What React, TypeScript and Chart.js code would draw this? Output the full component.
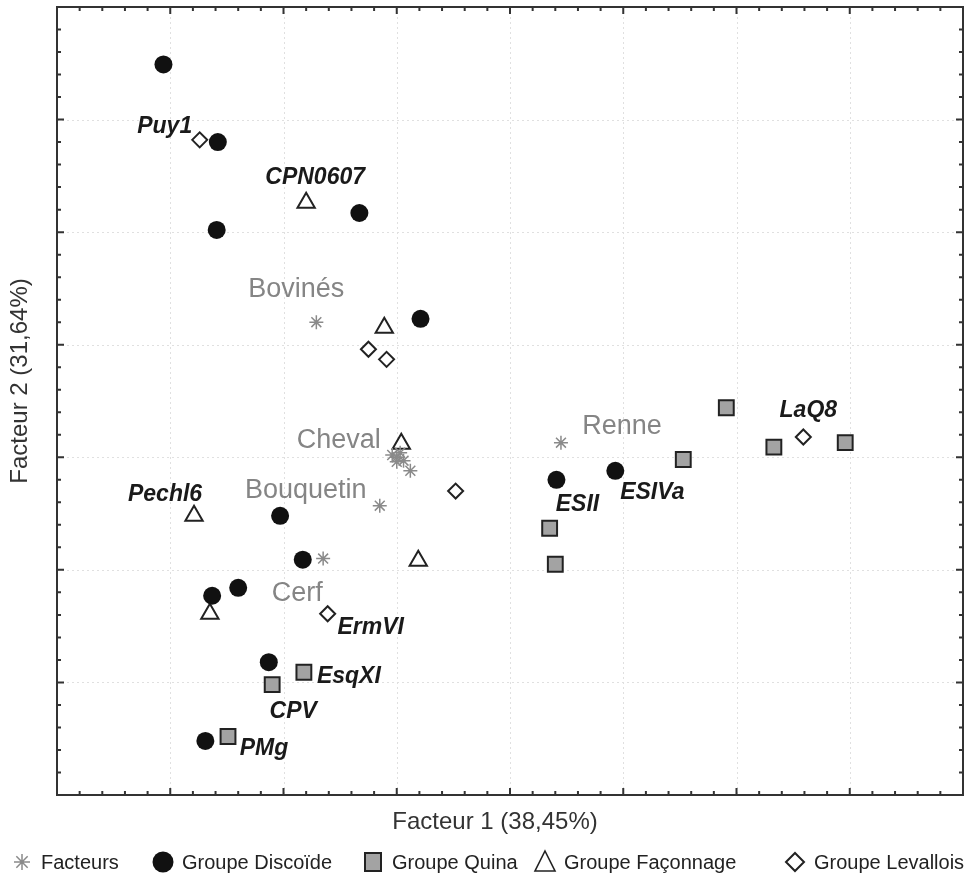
import React, { useEffect, useRef } from 'react';
import { Chart, registerables } from 'chart.js';

Chart.register(...registerables);

// ---- Data (Facteur 1, Facteur 2 coordinates) ----
const facteursPts: [number, number][] = [
  [-0.71, 1.2], [0.0, 0.0], [-0.15, -0.43], [-0.65, -0.9], [1.45, 0.13],
  [-0.04, 0.02], [0.03, 0.04], [0.0, -0.04], [0.06, -0.03], [0.12, -0.12],
];
const facteursLabels = ['Bovinés', 'Cheval', 'Bouquetin', 'Cerf', 'Renne', '', '', '', '', ''];

const discoidePts: [number, number][] = [
  [-2.06, 3.49], [-1.58, 2.8], [-0.33, 2.17], [-1.59, 2.02], [0.21, 1.23],
  [1.41, -0.2], [1.93, -0.12], [-1.03, -0.52], [-0.83, -0.91], [-1.4, -1.16],
  [-1.63, -1.23], [-1.13, -1.82], [-1.69, -2.52],
];
const discoideLabels = ['', '', '', '', '', 'ESII', 'ESIVa', '', '', '', '', '', ''];

const quinaPts: [number, number][] = [
  [2.91, 0.44], [2.53, -0.02], [3.33, 0.09], [3.96, 0.13], [1.35, -0.63],
  [1.4, -0.95], [-0.82, -1.91], [-1.1, -2.02], [-1.49, -2.48],
];
const quinaLabels = ['', '', '', '', '', '', 'EsqXI', 'CPV', 'PMg'];

const faconnagePts: [number, number][] = [
  [-0.8, 2.26], [-0.11, 1.15], [0.04, 0.12], [-1.79, -0.52], [0.19, -0.92], [-1.65, -1.39],
];
const faconnageLabels = ['CPN0607', '', '', 'Pechl6', '', ''];

const levalloisPts: [number, number][] = [
  [-1.74, 2.82], [-0.25, 0.96], [-0.09, 0.87], [0.52, -0.3], [3.59, 0.18], [-0.61, -1.39],
];
const levalloisLabels = ['Puy1', '', '', '', 'LaQ8', 'ErmVI'];

const seriesNames = ['Facteurs', 'Groupe Discoïde', 'Groupe Quina', 'Groupe Façonnage', 'Groupe Levallois'];
const xTitle = 'Facteur 1 (38,45%)';
const yTitle = 'Facteur 2 (31,64%)';

// ---- Layout / style (pixel offsets of labels relative to their point) ----
const LABEL_OFFSETS: Record<string, [number, number]> = {
  Puy1: [-35, -7], CPN0607: [9, -19], LaQ8: [5, -20], ESII: [21, 31], ESIVa: [37, 28],
  Pechl6: [-29, -15], ErmVI: [43, 20], EsqXI: [45, 11], CPV: [21, 33], PMg: [36, 19],
  'Bovinés': [-20, -25], Cheval: [-58, -9], Bouquetin: [-74, -8], Cerf: [-26, 42], Renne: [61, -9],
};
const LEGEND_ICON_X = [22, 163, 373, 545, 795];
const FONT = '"Liberation Sans", Arial, Helvetica, sans-serif';
const GREY_TEXT = '#858585';
const STAR_COL = '#8a8a8a';
const QUINA_FILL = '#a3a3a3';
const DARK = '#222222';

const toXY = (pts: [number, number][]) => pts.map(([x, y]) => ({ x, y }));

function drawIcon(ctx: CanvasRenderingContext2D, kind: number, x: number, y: number) {
  ctx.save();
  ctx.setLineDash([]);
  if (kind === 0) {
    ctx.strokeStyle = STAR_COL;
    ctx.lineWidth = 1.5;
    const r = 8;
    ctx.beginPath();
    for (let k = 0; k < 4; k++) {
      const a = (k * Math.PI) / 4;
      ctx.moveTo(x - Math.cos(a) * r, y - Math.sin(a) * r);
      ctx.lineTo(x + Math.cos(a) * r, y + Math.sin(a) * r);
    }
    ctx.stroke();
  } else if (kind === 1) {
    ctx.fillStyle = '#111';
    ctx.beginPath();
    ctx.arc(x, y, 10.5, 0, Math.PI * 2);
    ctx.fill();
  } else if (kind === 2) {
    ctx.fillStyle = QUINA_FILL;
    ctx.strokeStyle = DARK;
    ctx.lineWidth = 2;
    ctx.fillRect(x - 8, y - 9, 16, 18);
    ctx.strokeRect(x - 8, y - 9, 16, 18);
  } else if (kind === 3) {
    ctx.strokeStyle = DARK;
    ctx.lineWidth = 1.6;
    ctx.beginPath();
    ctx.moveTo(x, y - 11);
    ctx.lineTo(x + 10, y + 9);
    ctx.lineTo(x - 10, y + 9);
    ctx.closePath();
    ctx.stroke();
  } else {
    ctx.strokeStyle = DARK;
    ctx.lineWidth = 2;
    ctx.beginPath();
    ctx.moveTo(x - 9, y);
    ctx.lineTo(x, y - 9);
    ctx.lineTo(x + 9, y);
    ctx.lineTo(x, y + 9);
    ctx.closePath();
    ctx.stroke();
  }
  ctx.restore();
}

const decorPlugin = {
  id: 'decor',
  beforeDatasetsDraw(chart: any) {
    const { ctx, chartArea: a, scales } = chart;
    const xs = scales.x, ys = scales.y;
    ctx.save();
    ctx.strokeStyle = '#e0e0e0';
    ctx.lineWidth = 1;
    ctx.setLineDash([2, 3]);
    for (let v = Math.ceil(xs.min) + (Number.isInteger(xs.min) ? 1 : 0); v < xs.max; v++) {
      const px = Math.round(xs.getPixelForValue(v)) + 0.5;
      ctx.beginPath(); ctx.moveTo(px, a.top); ctx.lineTo(px, a.bottom); ctx.stroke();
    }
    for (let v = Math.ceil(ys.min) + (Number.isInteger(ys.min) ? 1 : 0); v < ys.max; v++) {
      const py = Math.round(ys.getPixelForValue(v)) + 0.5;
      ctx.beginPath(); ctx.moveTo(a.left, py); ctx.lineTo(a.right, py); ctx.stroke();
    }
    ctx.restore();
  },
  afterDatasetsDraw(chart: any) {
    const { ctx } = chart;
    ctx.save();
    chart.data.datasets.forEach((ds: any, i: number) => {
      const meta = chart.getDatasetMeta(i);
      const labels: string[] = ds.pointLabels || [];
      labels.forEach((lab, j) => {
        if (!lab) return;
        const el = meta.data[j];
        const off = LABEL_OFFSETS[lab] || [0, -14];
        if (i === 0) {
          ctx.font = `27px ${FONT}`;
          ctx.fillStyle = GREY_TEXT;
        } else {
          ctx.font = `italic bold 23px ${FONT}`;
          ctx.fillStyle = '#1a1a1a';
        }
        ctx.textAlign = 'center';
        ctx.textBaseline = 'alphabetic';
        ctx.fillText(lab, el.x + off[0], el.y + off[1]);
      });
    });
    ctx.restore();
  },
  afterDraw(chart: any) {
    const { ctx, chartArea: a, scales } = chart;
    const xs = scales.x, ys = scales.y;
    ctx.save();
    // ticks (inward, all four sides)
    ctx.strokeStyle = '#333';
    ctx.lineWidth = 2;
    const stepsX = Math.round((xs.max - xs.min) * 5);
    for (let i = 1; i < stepsX; i++) {
      const v = xs.min + i / 5;
      const px = xs.getPixelForValue(v);
      const len = i % 5 === 0 ? 7 : 4;
      ctx.beginPath();
      ctx.moveTo(px, a.bottom); ctx.lineTo(px, a.bottom - len);
      ctx.moveTo(px, a.top); ctx.lineTo(px, a.top + len);
      ctx.stroke();
    }
    const stepsY = Math.round((ys.max - ys.min) * 5);
    for (let i = 1; i < stepsY; i++) {
      const v = ys.min + i / 5;
      const py = ys.getPixelForValue(v);
      const len = i % 5 === 0 ? 7 : 4;
      ctx.beginPath();
      ctx.moveTo(a.left, py); ctx.lineTo(a.left + len, py);
      ctx.moveTo(a.right, py); ctx.lineTo(a.right - len, py);
      ctx.stroke();
    }
    // frame
    ctx.strokeStyle = '#333';
    ctx.lineWidth = 2;
    ctx.strokeRect(a.left, a.top, a.right - a.left, a.bottom - a.top);

    // axis titles
    ctx.fillStyle = '#333';
    ctx.font = `24px ${FONT}`;
    ctx.textAlign = 'center';
    ctx.textBaseline = 'middle';
    ctx.fillText(xTitle, a.left + 438, a.bottom + 27);
    ctx.save();
    ctx.translate(20, a.top + 374);
    ctx.rotate(-Math.PI / 2);
    ctx.fillText(yTitle, 0, 0);
    ctx.restore();

    // legend
    const ly = a.bottom + 67;
    ctx.font = `20px ${FONT}`;
    ctx.textAlign = 'left';
    ctx.textBaseline = 'middle';
    seriesNames.forEach((name, k) => {
      drawIcon(ctx, k, LEGEND_ICON_X[k], ly);
      ctx.fillStyle = '#222';
      ctx.fillText(name, LEGEND_ICON_X[k] + 19, ly + 1);
    });
    ctx.restore();
  },
};

export default function App() {
  const ref = useRef<HTMLCanvasElement>(null);
  useEffect(() => {
    if (!ref.current) return;
    const chart = new Chart(ref.current, {
      type: 'scatter',
      data: {
        datasets: [
          {
            label: seriesNames[0], data: toXY(facteursPts), pointLabels: facteursLabels,
            pointStyle: 'star', pointRadius: 7, pointBorderColor: STAR_COL, pointBackgroundColor: STAR_COL,
            pointBorderWidth: 1.5,
          } as any,
          {
            label: seriesNames[1], data: toXY(discoidePts), pointLabels: discoideLabels,
            pointStyle: 'circle', pointRadius: 9, pointBorderWidth: 0, pointBackgroundColor: '#111',
            pointBorderColor: '#111',
          } as any,
          {
            label: seriesNames[2], data: toXY(quinaPts), pointLabels: quinaLabels,
            pointStyle: 'rect', pointRadius: 10.5, pointBorderWidth: 2, pointBackgroundColor: QUINA_FILL,
            pointBorderColor: DARK,
          } as any,
          {
            label: seriesNames[3], data: toXY(faconnagePts), pointLabels: faconnageLabels,
            pointStyle: 'triangle', pointRadius: 10, pointBorderWidth: 2, pointBackgroundColor: '#fff',
            pointBorderColor: DARK,
          } as any,
          {
            label: seriesNames[4], data: toXY(levalloisPts), pointLabels: levalloisLabels,
            pointStyle: 'rectRot', pointRadius: 7.5, pointBorderWidth: 2, pointBackgroundColor: '#fff',
            pointBorderColor: DARK,
          } as any,
        ],
      },
      options: {
        responsive: false,
        animation: false,
        layout: { autoPadding: false, padding: { left: 57, top: 7, right: 13, bottom: 84 } },
        scales: {
          x: { type: 'linear', min: -3, max: 5, display: false },
          y: { type: 'linear', min: -3, max: 4, display: false },
        },
        plugins: { legend: { display: false }, tooltip: { enabled: false } },
      },
      plugins: [decorPlugin],
    });
    return () => chart.destroy();
  }, []);
  return (
    <div style={{ position: 'absolute', left: 0, top: 0, width: 976, height: 879, background: '#fff' }}>
      <canvas ref={ref} width={976} height={879} style={{ display: 'block' }} />
    </div>
  );
}
